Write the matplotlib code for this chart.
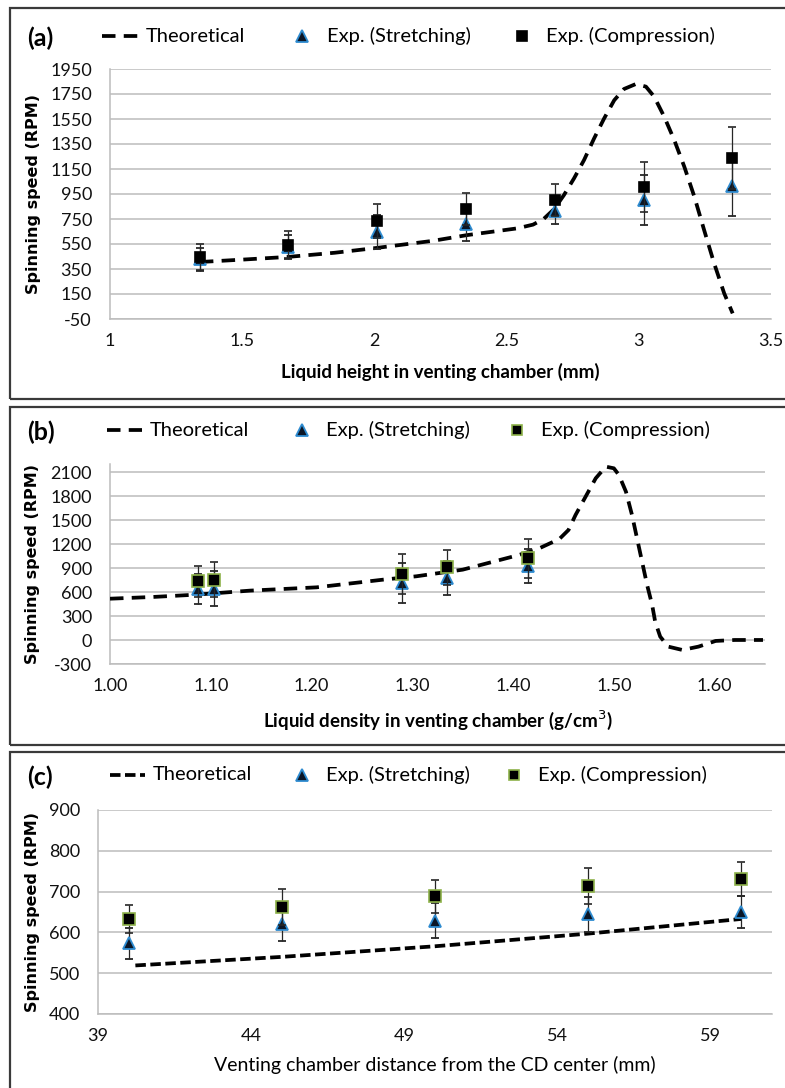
import matplotlib
matplotlib.use("Agg")
import matplotlib.pyplot as plt
from matplotlib.lines import Line2D
from matplotlib.patches import Rectangle

plt.rcParams["font.family"] = ["Lato", "DejaVu Sans"]
plt.rcParams["axes.unicode_minus"] = False

# ── Data ──────────────────────────────────────────────────────────────────────
# (a) liquid height
theo_a_x = [1.34, 1.50, 1.675, 1.85, 2.01, 2.22, 2.35, 2.54, 2.60, 2.64, 2.68,
            2.717, 2.755, 2.793, 2.831, 2.869, 2.907, 2.944, 2.989, 3.027,
            3.058, 3.096, 3.134, 3.172, 3.21, 3.247, 3.285, 3.323, 3.355]
theo_a_y = [406, 425, 447, 480, 519, 575, 621, 675, 705, 750, 830,
            942, 1075, 1222, 1395, 1555, 1700, 1790, 1830, 1809,
            1729, 1569, 1382, 1169, 929, 662, 395, 155, -5]
exp_a_x = [1.341, 1.675, 2.01, 2.347, 2.683, 3.02, 3.352]
stretch_a = [428, 527, 648, 707, 817, 899, 1014]
stretch_err_a = [92, 97, 136, 130, 110, 200, 240]
comp_a = [447, 546, 734, 830, 902, 1006, 1241]
comp_err_a = [104, 110, 137, 130, 125, 198, 248]
yticks_a = list(range(-50, 1951, 200))
xticks_a = [1, 1.5, 2, 2.5, 3, 3.5]
xticklabels_a = ["1", "1.5", "2", "2.5", "3", "3.5"]

# (b) liquid density
theo_b_x = [1.00, 1.043, 1.086, 1.139, 1.205, 1.271, 1.304, 1.35, 1.406, 1.426,
            1.446, 1.455, 1.462, 1.472, 1.482, 1.492, 1.500, 1.505, 1.512,
            1.518, 1.523, 1.528, 1.533, 1.538, 1.541, 1.546, 1.554, 1.568,
            1.584, 1.601, 1.62, 1.648]
theo_b_y = [520, 542, 571, 621, 662, 758, 800, 883, 1067, 1150,
            1267, 1379, 1567, 1796, 2025, 2171, 2150, 2067, 1858,
            1567, 1275, 983, 692, 442, 233, 46, -79, -121,
            -79, -8, 4, 4]
exp_b_x = [1.087, 1.103, 1.29, 1.334, 1.415]
stretch_b = [642, 646, 717, 779, 929]
stretch_err_b = [186, 220, 250, 215, 215]
comp_b = [737, 758, 829, 912, 1025]
comp_err_b = [190, 221, 245, 218, 245]
yticks_b = list(range(-300, 2101, 300))
xticks_b = [1.0, 1.1, 1.2, 1.3, 1.4, 1.5, 1.6]

# (c) chamber distance
theo_c_x = [40.22, 45.0, 50.0, 55.0, 60.0]
theo_c_y = [519, 540, 566, 597, 633]
exp_c_x = [40, 45, 50, 55, 60]
stretch_c = [573, 621, 629, 644, 651]
stretch_err_c = [38, 42, 42, 42, 39]
comp_c = [633, 662, 688, 714, 731]
comp_err_c = [35, 44, 41, 45, 41]
yticks_c = [400, 500, 600, 700, 800, 900]
xticks_c = [39, 44, 49, 54, 59]

# ── Styling ───────────────────────────────────────────────────────────────────
W, H = 785, 1088
GRID = "#bcbcbc"
TRI_FACE, TRI_EDGE = "#0b1626", "#2e8bd0"
GREEN = "#8db24a"
ERR = "#262626"
LW = 2.7


def rect(left, top, right, bottom):
    return [left / W, 1 - bottom / H, (right - left) / W, (bottom - top) / H]


def style_axes(ax, xlim, ylim, xticks, yticks, xlabels=None):
    ax.set_xlim(*xlim)
    ax.set_ylim(*ylim)
    ax.set_xticks(xticks)
    if xlabels is not None:
        ax.set_xticklabels(xlabels)
    ax.set_yticks(yticks)
    ax.grid(axis="y", color=GRID, linewidth=1.1)
    ax.set_axisbelow(True)
    for s in ("top", "right"):
        ax.spines[s].set_visible(False)
    for s in ("left", "bottom"):
        ax.spines[s].set_color(GRID)
        ax.spines[s].set_linewidth(1.1)
    ax.tick_params(length=0, labelsize=13, colors="#111111")
    ax.tick_params(axis="y", pad=13)
    ax.tick_params(axis="x", pad=10)
    ax.set_ylabel("Spinning speed (RPM)", family="DejaVu Sans",
                  fontweight="bold", fontsize=11.5)


def draw_series(ax, tx, ty, ex, sy, se, cy, ce, sq_edge, sq_size, dashes):
    ax.plot(tx, ty, color="black", lw=LW, dashes=dashes, zorder=3)
    ax.errorbar(ex, sy, yerr=se, fmt="^", ms=8.5, mfc=TRI_FACE, mec=TRI_EDGE,
                mew=1.3, ecolor=ERR, elinewidth=0.9, capsize=3, capthick=0.9,
                zorder=4)
    ax.errorbar(ex, cy, yerr=ce, fmt="s", ms=sq_size, mfc="black", mec=sq_edge,
                mew=1.2, ecolor=ERR, elinewidth=0.9, capsize=3, capthick=0.9,
                zorder=5)


def panel_legend(fig, y, tag, sq_edge, dash_x, dashes, text_x):
    fig.text(27 / W, 1 - (y + 2) / H, tag, fontsize=18, fontweight="bold",
             va="center", ha="left")
    fig.add_artist(Line2D([dash_x[0] / W, dash_x[1] / W], [1 - y / H] * 2,
                          color="black", lw=LW, dashes=dashes,
                          transform=fig.transFigure))
    fig.add_artist(Line2D([302 / W], [1 - y / H], marker="^", ms=8,
                          mfc=TRI_FACE, mec=TRI_EDGE, mew=1.3, ls="none",
                          transform=fig.transFigure))
    fig.add_artist(Line2D([(text_x[2] - 24) / W], [1 - y / H], marker="s",
                          ms=7, mfc="black", mec=sq_edge, mew=1.2, ls="none",
                          transform=fig.transFigure))
    for tx, label in zip(text_x, ["Theoretical", "Exp. (Stretching)",
                                  "Exp. (Compression)"]):
        fig.text(tx / W, 1 - y / H, label, fontsize=14.5, va="center",
                 ha="left")


fig = plt.figure(figsize=(W / 100, H / 100), dpi=100)

# panel frames
for top, bottom in [(8, 399), (407, 745), (752, 1100)]:
    fig.add_artist(Rectangle((10 / W, 1 - bottom / H), 800 / W,
                             (bottom - top) / H, transform=fig.transFigure,
                             fill=False, edgecolor="#3a3a3a", lw=1.6))

# (a)
ax_a = fig.add_axes(rect(110, 69, 771, 319))
draw_series(ax_a, theo_a_x, theo_a_y, exp_a_x, stretch_a, stretch_err_a,
            comp_a, comp_err_a, "black", 6.5, (3.6, 2.2))
style_axes(ax_a, (1, 3.5), (-50, 1950), xticks_a, yticks_a, xticklabels_a)
ax_a.set_xlabel("Liquid height in venting chamber (mm)", fontsize=13.5,
                fontweight="bold")
ax_a.xaxis.set_label_coords(0.5, -44 / 250, transform=ax_a.transAxes)
ax_a.yaxis.set_label_coords(-69 / 661, 0.5, transform=ax_a.transAxes)
panel_legend(fig, 36, "(a)", "black", (102, 138), (3.6, 2.2), (146, 327, 546))

# (b)
ax_b = fig.add_axes(rect(110, 464.3, 765, 664.3))
draw_series(ax_b, theo_b_x, theo_b_y, exp_b_x, stretch_b, stretch_err_b,
            comp_b, comp_err_b, GREEN, 8, (3.6, 2.2))
style_axes(ax_b, (1.0, 1.65), (-300, 2200), xticks_b, yticks_b,
           [f"{v:.2f}" for v in xticks_b])
ax_b.set_xlabel("Liquid density in venting chamber (g/cm$^3$)", fontsize=13.5,
                fontweight="bold")
ax_b.xaxis.set_label_coords(0.5, -44 / 200, transform=ax_b.transAxes)
ax_b.yaxis.set_label_coords(-70 / 655, 0.5, transform=ax_b.transAxes)
panel_legend(fig, 430, "(b)", GREEN, (107, 142), (3.6, 2.2), (150, 326, 541))

# (c)
ax_c = fig.add_axes(rect(98, 810, 772, 1014))
draw_series(ax_c, theo_c_x, theo_c_y, exp_c_x, stretch_c, stretch_err_c,
            comp_c, comp_err_c, GREEN, 8, (2.8, 1.2))
style_axes(ax_c, (39, 61), (400, 900), xticks_c, yticks_c)
ax_c.set_xlabel("Venting chamber distance from the CD center (mm)",
                fontsize=14)
ax_c.xaxis.set_label_coords(0.5, -42 / 204, transform=ax_c.transAxes)
ax_c.yaxis.set_label_coords(-58 / 674, 0.5, transform=ax_c.transAxes)
panel_legend(fig, 775, "(c)", GREEN, (110, 145), (2.8, 1.2), (153, 326, 538))

fig.savefig("out.png", dpi=100)
